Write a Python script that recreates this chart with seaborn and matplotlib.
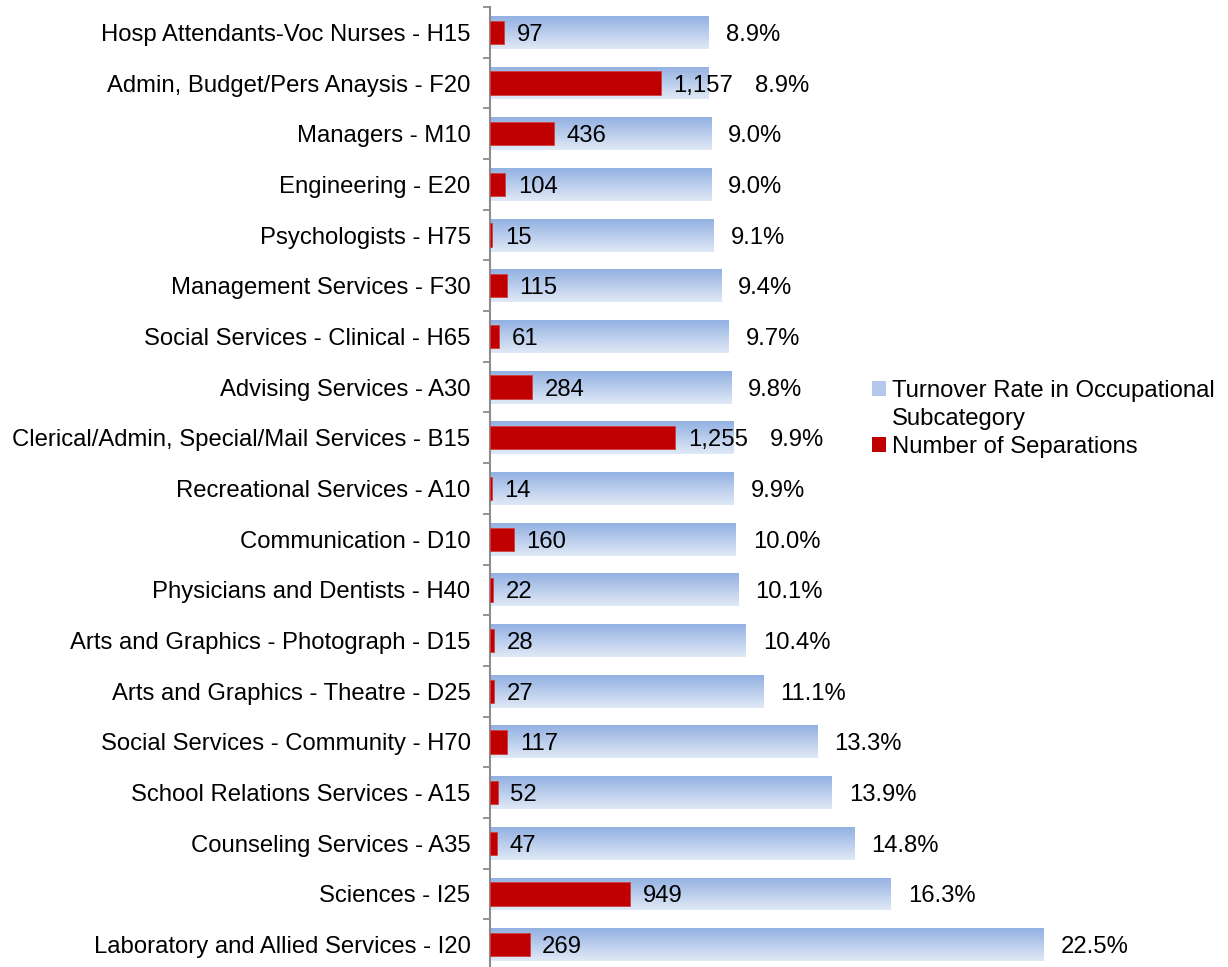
import numpy as np
import pandas as pd
import matplotlib
matplotlib.use("Agg")
import matplotlib.pyplot as plt
import seaborn as sns
from matplotlib.colors import LinearSegmentedColormap
from matplotlib.patches import Patch

categories = [
    "Hosp Attendants-Voc Nurses - H15",
    "Admin, Budget/Pers Anaysis - F20",
    "Managers - M10",
    "Engineering - E20",
    "Psychologists - H75",
    "Management Services - F30",
    "Social Services - Clinical - H65",
    "Advising Services - A30",
    "Clerical/Admin, Special/Mail Services - B15",
    "Recreational Services - A10",
    "Communication - D10",
    "Physicians and Dentists - H40",
    "Arts and Graphics - Photograph - D15",
    "Arts and Graphics - Theatre - D25",
    "Social Services - Community - H70",
    "School Relations Services - A15",
    "Counseling Services - A35",
    "Sciences - I25",
    "Laboratory and Allied Services - I20",
]
turnover_rate = [8.9, 8.9, 9.0, 9.0, 9.1, 9.4, 9.7, 9.8, 9.9, 9.9,
                 10.0, 10.1, 10.4, 11.1, 13.3, 13.9, 14.8, 16.3, 22.5]
separations = [97, 1157, 436, 104, 15, 115, 61, 284, 1255, 14,
               160, 22, 28, 27, 117, 52, 47, 949, 269]

RATE_LABEL_LINES = ["Turnover Rate in Occupational", "Subcategory"]
SEP_LABEL = "Number of Separations"
RED = "#C00000"
FS = 17.2

sns.set_theme(style="white")
plt.rcParams["font.family"] = ["Liberation Sans", "DejaVu Sans"]
plt.rcParams["text.color"] = "black"

df = pd.DataFrame({"category": categories, "rate": turnover_rate, "sep": separations})

W, H = 1228, 967
fig = plt.figure(figsize=(W / 100, H / 100), dpi=100)
ax = fig.add_axes([490 / W, -3 / H, 610 / W, 963 / H])

# Turnover rate bars (primary x scale), later filled with a vertical gradient
sns.barplot(data=df, x="rate", y="category", orient="h", width=0.65,
            color="#b8cbea", saturation=1, ax=ax)
xlim_rate = (0, 24.8)
ax.set_xlim(*xlim_rate)
ylim = ax.get_ylim()

cmap = LinearSegmentedColormap.from_list("bluegrad", ["#93b1e2", "#e0e9f6"])
grad = np.linspace(0, 1, 64).reshape(-1, 1)
for bar in list(ax.patches):
    x0, y0, w, h = bar.get_x(), bar.get_y(), bar.get_width(), bar.get_height()
    im = ax.imshow(grad, cmap=cmap, aspect="auto", origin="lower",
                   extent=(x0, x0 + w, y0, y0 + h), zorder=bar.get_zorder(),
                   interpolation="bilinear")
    im.set_clip_path(bar)
    bar.set_facecolor("none")
    bar.set_edgecolor("none")
ax.set_xlim(*xlim_rate)
ax.set_ylim(*ylim)

# Number of separations (secondary x scale)
ax2 = ax.twiny()
sns.barplot(data=df, x="sep", y="category", orient="h", width=0.46,
            color=RED, saturation=1, ax=ax2, edgecolor="#d04040", linewidth=0.6)
ax2.set_xlim(0, 4130)
ax2.set_ylim(*ylim)
for a in (ax, ax2):
    a.set_xlabel("")
    a.set_ylabel("")
    a.set_xticks([])
    for s in ("top", "right", "bottom"):
        a.spines[s].set_visible(False)
ax2.spines["left"].set_visible(False)

ax.spines["left"].set_color("#8c8c8c")
ax.spines["left"].set_linewidth(1.5)
ax.tick_params(axis="y", which="major", length=0, pad=14, labelsize=FS,
               labelcolor="black")
ax.set_yticks(np.arange(-0.5, len(categories), 1), minor=True)
ax.tick_params(axis="y", which="minor", left=True, length=5, width=1.3,
               color="#8c8c8c")

# Value labels
red_labels = []
for i, v in enumerate(separations):
    t = ax2.annotate(f"{v:,}", xy=(v, i), xytext=(9, 0), textcoords="offset points",
                     ha="left", va="center_baseline", fontsize=FS, color="black")
    red_labels.append(t)

fig.canvas.draw()
renderer = fig.canvas.get_renderer()
for i, r in enumerate(turnover_rate):
    end_px, y_px = ax.transData.transform((r, i))
    red_bb = red_labels[i].get_window_extent(renderer)
    x_px = max(end_px + 17, red_bb.x1 + 22)
    xd, _ = ax.transData.inverted().transform((x_px, y_px))
    ax.text(xd, i, f"{r:.1f}%", ha="left", va="center_baseline", fontsize=FS,
            color="black", clip_on=False)

# Legend: swatch aligned with the first line of the wrapped label
handles = [Patch(facecolor="#b3c8ea", edgecolor="none", label=RATE_LABEL_LINES[0]),
           Patch(facecolor="none", edgecolor="none", label=RATE_LABEL_LINES[1]),
           Patch(facecolor=RED, edgecolor="none", label=SEP_LABEL)]
leg = fig.legend(handles=handles, loc="upper left",
                 bbox_to_anchor=(872 / W, 1 - 380 / H),
                 frameon=False, fontsize=FS, handlelength=0.6, handleheight=0.6,
                 handletextpad=0.25, labelspacing=0.25, borderaxespad=0,
                 borderpad=0)
for t in leg.get_texts():
    t.set_color("black")

fig.savefig("out.png", dpi=100)
